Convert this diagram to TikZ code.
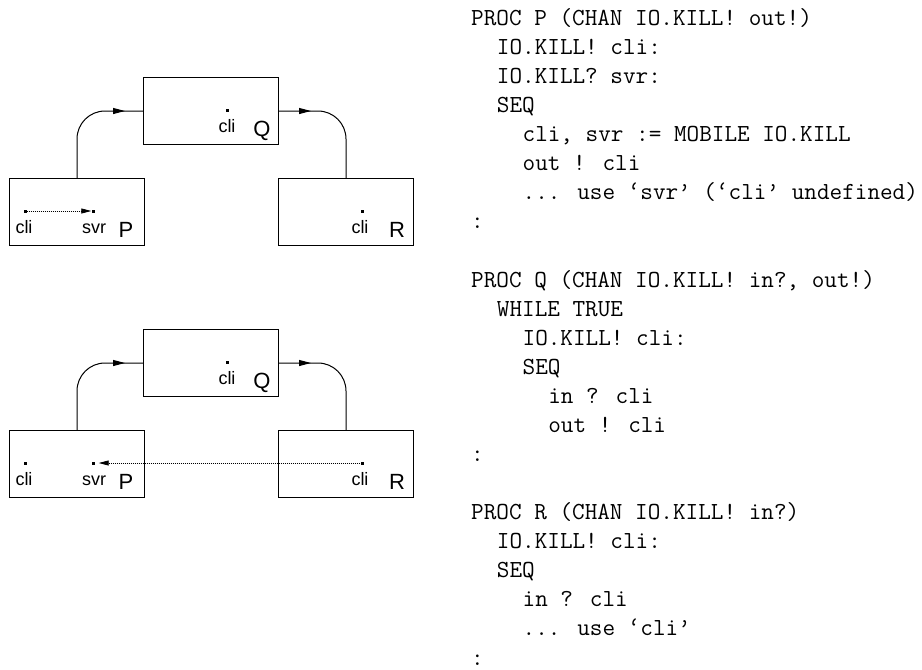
\documentclass[tikz,border=0pt]{standalone}
\usepackage{fontspec}
\setsansfont{Liberation Sans}
\usetikzlibrary{arrows.meta,decorations.markings}
\begin{document}
\begin{tikzpicture}[x=1pt,y=-1pt,
  box/.style={draw, line width=1pt, minimum width=135pt, minimum height=67pt, anchor=north west, inner sep=0pt},
  connA/.style={line width=1pt, rounded corners=28pt, postaction=decorate,
    decoration={markings, mark=at position -18pt with {\arrow{Triangle[length=12pt,width=6pt]}}}},
  connB/.style={line width=1pt, rounded corners=28pt, postaction=decorate,
    decoration={markings, mark=at position 32pt with {\arrow{Triangle[length=12pt,width=6pt]}}}},
  dotsq/.style={fill, rectangle, inner sep=0pt, minimum size=3pt},
  lbl/.style={font=\sffamily\fontsize{18}{18}\selectfont, anchor=base, inner sep=0pt},
  big/.style={font=\sffamily\fontsize{22}{22}\selectfont, anchor=base, inner sep=0pt},
  dotarrow/.style={line width=0.8pt, dash pattern=on 1pt off 1pt, -{Triangle[length=10pt,width=5pt]}},
  code/.style={font=\ttfamily\fontsize{24.5}{24.5}\selectfont, anchor=base west, inner sep=0pt}
]
\useasboundingbox (0,0) rectangle (922,670);

% ---------- top diagram ----------
\node[box] (Q1) at (143,77) {};
\node[box] (P1) at (9,178) {};
\node[box] (R1) at (278,178) {};
\draw[connA] (P1.north) |- (Q1.west);
\draw[connB] (Q1.east) -| (R1.north);

\node[dotsq] (q1cli) at (227,110) {};
\node[lbl] (q1clit) at (227,132) {cli};
\node[big] (q1lab) at (262,136) {Q};

\node[dotsq] (p1cli) at (25,211) {};
\node[dotsq] (p1svr) at (93,211) {};
\node[lbl] (p1clit) at (24,233) {cli};
\node[lbl] (p1svrt) at (94,233) {svr};
\node[big] (p1lab) at (126,237) {P};
\draw[dotarrow] (p1cli) -- (p1svr);

\node[dotsq] (r1cli) at (362,211) {};
\node[lbl] (r1clit) at (360,233) {cli};
\node[big] (r1lab) at (397,237) {R};

% ---------- bottom diagram ----------
\node[box] (Q2) at (143,329) {};
\node[box] (P2) at (9,430) {};
\node[box] (R2) at (278,430) {};
\draw[connA] (P2.north) |- (Q2.west);
\draw[connB] (Q2.east) -| (R2.north);

\node[dotsq] (q2cli) at (227,362) {};
\node[lbl] (q2clit) at (227,384) {cli};
\node[big] (q2lab) at (262,388) {Q};

\node[dotsq] (p2cli) at (25,463) {};
\node[dotsq] (p2svr) at (93,463) {};
\node[lbl] (p2clit) at (24,485) {cli};
\node[lbl] (p2svrt) at (94,485) {svr};
\node[big] (p2lab) at (126,489) {P};

\node[dotsq] (r2cli) at (362,463) {};
\node[lbl] (r2clit) at (360,485) {cli};
\node[big] (r2lab) at (397,489) {R};
\draw[dotarrow, shorten >=4pt] (r2cli) -- (p2svr);

% ---------- code ----------
\foreach \k/\i/\t in {
  0/0/{PROC P (CHAN IO.KILL! out!)},
  1/2/{IO.KILL! cli:},
  2/2/{IO.KILL? svr:},
  3/2/{SEQ},
  4/4/{cli, svr := MOBILE IO.KILL},
  5/4/{out ! cli},
  6/4/{... use ‘svr’ (‘cli’ undefined)},
  7/0/{:},
  9/0/{PROC Q (CHAN IO.KILL! in?, out!)},
  10/2/{WHILE TRUE},
  11/4/{IO.KILL! cli:},
  12/4/{SEQ},
  13/6/{in ? cli},
  14/6/{out ! cli},
  15/0/{:},
  17/0/{PROC R (CHAN IO.KILL! in?)},
  18/2/{IO.KILL! cli:},
  19/2/{SEQ},
  20/4/{in ? cli},
  21/4/{... use ‘cli’},
  22/0/{:}}
  \node[code, name=code\k] at ({471+\i*12.86}, {25.5+\k*29.07}) {\t};
\end{tikzpicture}
\end{document}
